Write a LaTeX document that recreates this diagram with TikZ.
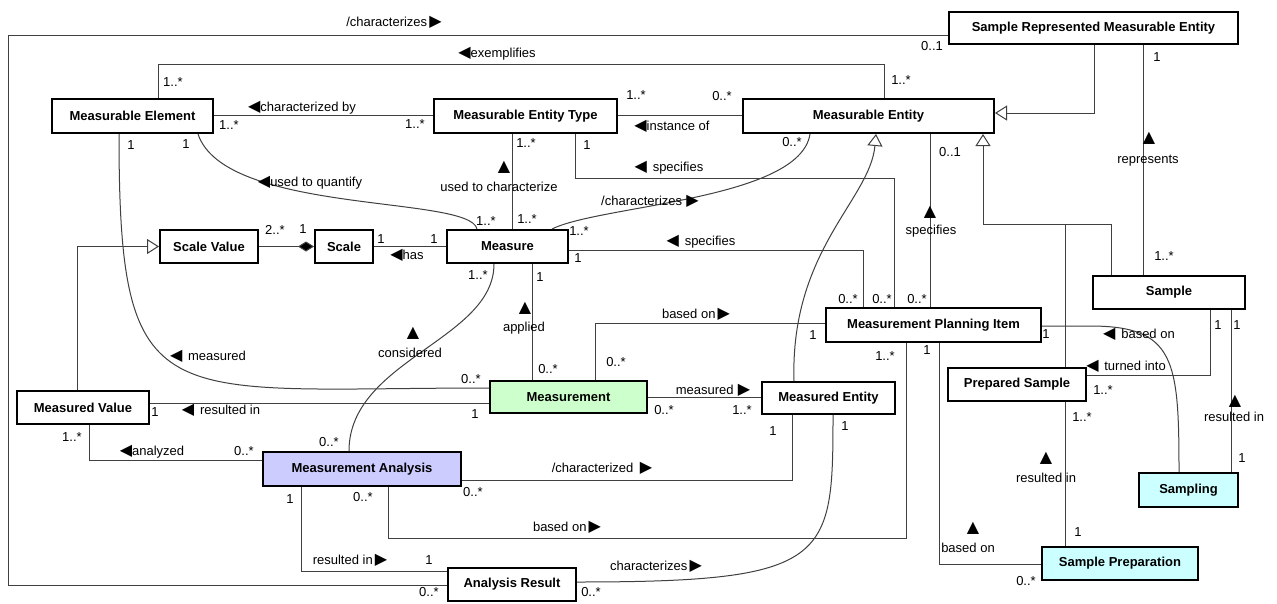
\documentclass[tikz,border=0pt]{standalone}
\usepackage{fontspec}
\setmainfont{Liberation Sans}
\newfontfamily\symf{DejaVu Sans}
\usetikzlibrary{arrows.meta}
\newcommand\tla{{\symf\fontsize{16}{16}\selectfont ◀}}
\newcommand\tra{{\symf\fontsize{16}{16}\selectfont ▶}}
\begin{document}
\begin{tikzpicture}[x=1pt,y=-1pt,
  cls/.style={draw=black, line width=2pt, fill=white, font=\fontsize{13}{15}\selectfont\bfseries, inner sep=0pt},
  conn/.style={draw=black!75, line width=1pt},
  lab/.style={font=\fontsize{13}{15}\selectfont, inner sep=0pt, text height=9.5pt, text depth=2.5pt},
  upt/.style={font=\symf\fontsize{16}{16}\selectfont, inner sep=0pt},
  gen/.style={conn, -{Triangle[open, length=12pt, width=15pt, fill=white]}},
  comp/.style={conn, -{Diamond[length=16pt, width=10pt, fill=black]}},
]
\useasboundingbox (0,0) rectangle (1277,603);
\fill[white] (0,0) rectangle (1277,603);

% ---------- classes ----------
\node[cls, minimum width=289pt, minimum height=32pt] (srme) at (1093.5,28) {Sample Represented Measurable Entity};
\node[cls, minimum width=161pt, minimum height=34pt] (me) at (132.5,116) {Measurable Element};
\node[cls, minimum width=183pt, minimum height=34pt] (met) at (525.5,116) {Measurable Entity Type};
\node[cls, minimum width=251pt, minimum height=34pt] (ment) at (868.5,116) {Measurable Entity};
\node[cls, minimum width=98pt, minimum height=33pt] (sv) at (209,246.5) {Scale Value};
\node[cls, minimum width=58pt, minimum height=33pt] (scale) at (344,246.5) {Scale};
\node[cls, minimum width=121pt, minimum height=33pt] (measure) at (507.5,246.5) {Measure};
\node[cls, minimum width=152pt, minimum height=33pt] (sample) at (1169,292.5) {Sample};
\node[cls, minimum width=215pt, minimum height=34pt] (mpi) at (933.5,325) {Measurement Planning Item};
\node[cls, minimum width=138pt, minimum height=33pt] (ps) at (1017,384.5) {Prepared Sample};
\node[cls, minimum width=157pt, minimum height=32pt, fill={rgb,255:red,204;green,255;blue,204}] (mmt) at (568.5,397) {Measurement};
\node[cls, minimum width=133pt, minimum height=32pt] (meas) at (828.5,398) {Measured Entity};
\node[cls, minimum width=132pt, minimum height=33pt] (mv) at (83,407.5) {Measured Value};
\node[cls, minimum width=198pt, minimum height=34pt, fill={rgb,255:red,204;green,204;blue,255}] (ma) at (362,469) {Measurement Analysis};
\node[cls, minimum width=99pt, minimum height=34pt, fill={rgb,255:red,204;green,255;blue,255}] (sampling) at (1188.5,490) {Sampling};
\node[cls, minimum width=156pt, minimum height=33pt, fill={rgb,255:red,204;green,255;blue,255}] (sp) at (1120,563.5) {Sample Preparation};
\node[cls, minimum width=128pt, minimum height=33pt] (ar) at (512,584.5) {Analysis Result};

% ---------- connectors ----------
\draw[conn] (ar.west |- 0,585) -| (8,35) -- (srme.west |- 0,35);
\draw[conn] (me.north -| 158,0) |- (884,64) -- (ment.north -| 884,0);
\draw[conn] (me.east |- 0,115) -- (met.west |- 0,115);
\draw[conn] (met.east |- 0,115) -- (ment.west |- 0,115);
\draw[conn] (measure.north -| 512,0) -- (met.south -| 512,0);
\draw[conn] (met.south -| 575,0) |- (894,178) -- (mpi.north -| 894,0);
\draw[conn] (ment.south -| 930,0) -- (mpi.north -| 930,0);
\draw[gen] (srme.south -| 1094,0) |- (ment.east |- 0,113);
\draw[conn] (srme.south -| 1143,0) -- (sample.north -| 1143,0);
\draw[gen] (sample.north -| 1111,0) |- (983,224) -- (ment.south -| 983,0);
\draw[conn] (ps.north -| 1065,0) -- (1065,224);
\draw[comp] (sv.east) -- (scale.west);
\draw[conn] (scale.east) -- (measure.west);
\draw[gen] (mv.north -| 77,0) |- (sv.west);
\draw[conn] (measure.east |- 0,250) -| (mpi.north -| 863,0);
\draw[conn] (measure.south -| 532,0) -- (mmt.north -| 532,0);
\draw[conn] (mmt.north -| 595,0) |- (mpi.west |- 0,323);
\draw[conn] (mmt.east |- 0,397) -- (meas.west |- 0,397);
\draw[conn] (mmt.west |- 0,403) -- (mv.east |- 0,403);
\draw[conn] (mv.south -| 89,0) |- (ma.west |- 0,460);
\draw[conn] (ma.east |- 0,480) -| (meas.south -| 792,0);
\draw[conn] (ma.south -| 388,0) |- (906,538) -- (mpi.south -| 906,0);
\draw[conn] (ma.south -| 301,0) |- (ar.west |- 0,571);
\draw[conn] (ar.east |- 0,582) .. controls (830,582) and (833,560) .. (meas.south -| 833,0);
\draw[conn] (sample.south -| 1231,0) -- (sampling.north -| 1231,0);
\draw[conn] (sample.south -| 1210,0) |- (ps.east |- 0,375);
\draw[conn] (ps.south -| 1065,0) -- (sp.north -| 1065,0);
\draw[conn] (mpi.south -| 939,0) |- (sp.west |- 0,564);
\draw[conn] (mpi.east |- 0,326) -- (1090,326) .. controls (1175,326) and (1179,360) .. (sampling.north -| 1179,0);
\draw[conn] (me.south -| 198,0) .. controls (225,215) and (470,195) .. (measure.north -| 477,0);
\draw[conn] (ment.south -| 810,0) .. controls (800,200) and (600,205) .. (measure.north -| 552,0);
\draw[conn] (measure.south -| 494,0) .. controls (494,340) and (349,360) .. (ma.north -| 349,0);
\draw[conn] (me.south -| 119,0) .. controls (119,420) and (160,388) .. (mmt.west |- 0,388);
\draw[gen] (meas.north -| 794,0) .. controls (790,250) and (870,200) .. (ment.south -| 876,0);

% ---------- association names ----------
\node[lab] (l1) at (394,23) {/characterizes\,\tra};
\node[lab] (l2) at (497,54) {\tla exemplifies};
\node[lab] (l3) at (302,108) {\tla characterized by};
\node[lab] (l4) at (310,183) {\tla used to quantify};
\node[lab] (l5) at (672,127) {\tla instance of};
\node[lab] (l6) at (669,168) {\tla\, specifies};
\node[lab] (l7) at (650,202) {/characterizes\,\,\tra};
\node[lab] (l8) at (499,188) {used to characterize};
\node[upt] (u8) at (504,167) {▲};
\node[lab] (l9) at (1148,160) {represents};
\node[upt] (u9) at (1149,138) {▲};
\node[lab] (l10) at (931,231) {specifies};
\node[upt] (u10) at (930,212) {▲};
\node[lab] (l11) at (407,256) {\tla has};
\node[lab] (l12) at (701,242) {\tla\, specifies};
\node[lab] (l13) at (524,328) {applied};
\node[upt] (u13) at (525,308) {▲};
\node[lab] (l14) at (410,354) {considered};
\node[upt] (u14) at (413,333) {▲};
\node[lab] (l15) at (208,357) {\tla\, measured};
\node[lab] (l16) at (696,315) {based on\,\tra};
\node[lab] (l17) at (713,391) {measured\,\,\tra};
\node[lab] (l18) at (221,411) {\tla\, resulted in};
\node[lab] (l19) at (152,452) {\tla analyzed};
\node[lab] (l20) at (602,469) {/characterized\,\,\,\tra};
\node[lab] (l21) at (567,528) {based on\,\tra};
\node[lab] (l22) at (350,561) {resulted in\,\tra};
\node[lab] (l23) at (656,567) {characterizes\,\tra};
\node[lab] (l24) at (1139,335) {\tla\, based on};
\node[lab] (l25) at (1126,367) {\tla\, turned into};
\node[lab] (l26) at (1234,418) {resulted in};
\node[upt] (u26) at (1235,401) {▲};
\node[lab] (l27) at (1046,479) {resulted in};
\node[upt] (u27) at (1046,458) {▲};
\node[lab] (l28) at (968,549) {based on};
\node[upt] (u28) at (973,528) {▲};

% ---------- multiplicities ----------
\node[lab] (m1) at (173,83) {1..*};
\node[lab] (m2) at (229,126) {1..*};
\node[lab] (m3) at (131,146) {1};
\node[lab] (m4) at (186,145) {1};
\node[lab] (m5) at (415,125) {1..*};
\node[lab] (m6) at (636,96) {1..*};
\node[lab] (m7) at (526,144) {1..*};
\node[lab] (m8) at (587,146) {1};
\node[lab] (m9) at (932,47) {0..1};
\node[lab] (m10) at (901,81) {1..*};
\node[lab] (m11) at (722,97) {0..*};
\node[lab] (m12) at (792,143) {0..*};
\node[lab] (m13) at (950,153) {0..1};
\node[lab] (m14) at (848,300) {0..*};
\node[lab] (m15) at (882,300) {0..*};
\node[lab] (m16) at (917,300) {0..*};
\node[lab] (m17) at (813,336) {1};
\node[lab] (m18) at (885,357) {1..*};
\node[lab] (m19) at (927,351) {1};
\node[lab] (m20) at (664,411) {0..*};
\node[lab] (m21) at (742,411) {1..*};
\node[lab] (m22) at (773,432) {1};
\node[lab] (m23) at (845,427) {1};
\node[lab] (m24) at (473,493) {0..*};
\node[lab] (m25) at (363,498) {0..*};
\node[lab] (m26) at (429,561) {1};
\node[lab] (m27) at (429,593) {0..*};
\node[lab] (m28) at (591,593) {0..*};
\node[lab] (m29) at (475,415) {1};
\node[lab] (m30) at (329,443) {0..*};
\node[lab] (m31) at (155,413) {1};
\node[lab] (m32) at (72,438) {1..*};
\node[lab] (m33) at (244,452) {0..*};
\node[lab] (m34) at (290,500) {1};
\node[lab] (m35) at (275,231) {2..*};
\node[lab] (m36) at (303,230) {1};
\node[lab] (m37) at (381,240) {1};
\node[lab] (m38) at (434,240) {1};
\node[lab] (m39) at (486,222) {1..*};
\node[lab] (m40) at (527,220) {1..*};
\node[lab] (m41) at (579,232) {1..*};
\node[lab] (m42) at (578,259) {1};
\node[lab] (m43) at (478,276) {1..*};
\node[lab] (m44) at (540,278) {1};
\node[lab] (m45) at (471,380) {0..*};
\node[lab] (m46) at (548,370) {0..*};
\node[lab] (m47) at (616,363) {0..*};
\node[lab] (m48) at (1157,58) {1};
\node[lab] (m49) at (1164,257) {1..*};
\node[lab] (m50) at (1046,335) {1};
\node[lab] (m51) at (1103,391) {1..*};
\node[lab] (m52) at (1218,326) {1};
\node[lab] (m53) at (1237,326) {1};
\node[lab] (m54) at (1082,418) {1..*};
\node[lab] (m55) at (1242,459) {1};
\node[lab] (m56) at (1078,533) {1};
\node[lab] (m57) at (1026,582) {0..*};
\end{tikzpicture}
\end{document}
